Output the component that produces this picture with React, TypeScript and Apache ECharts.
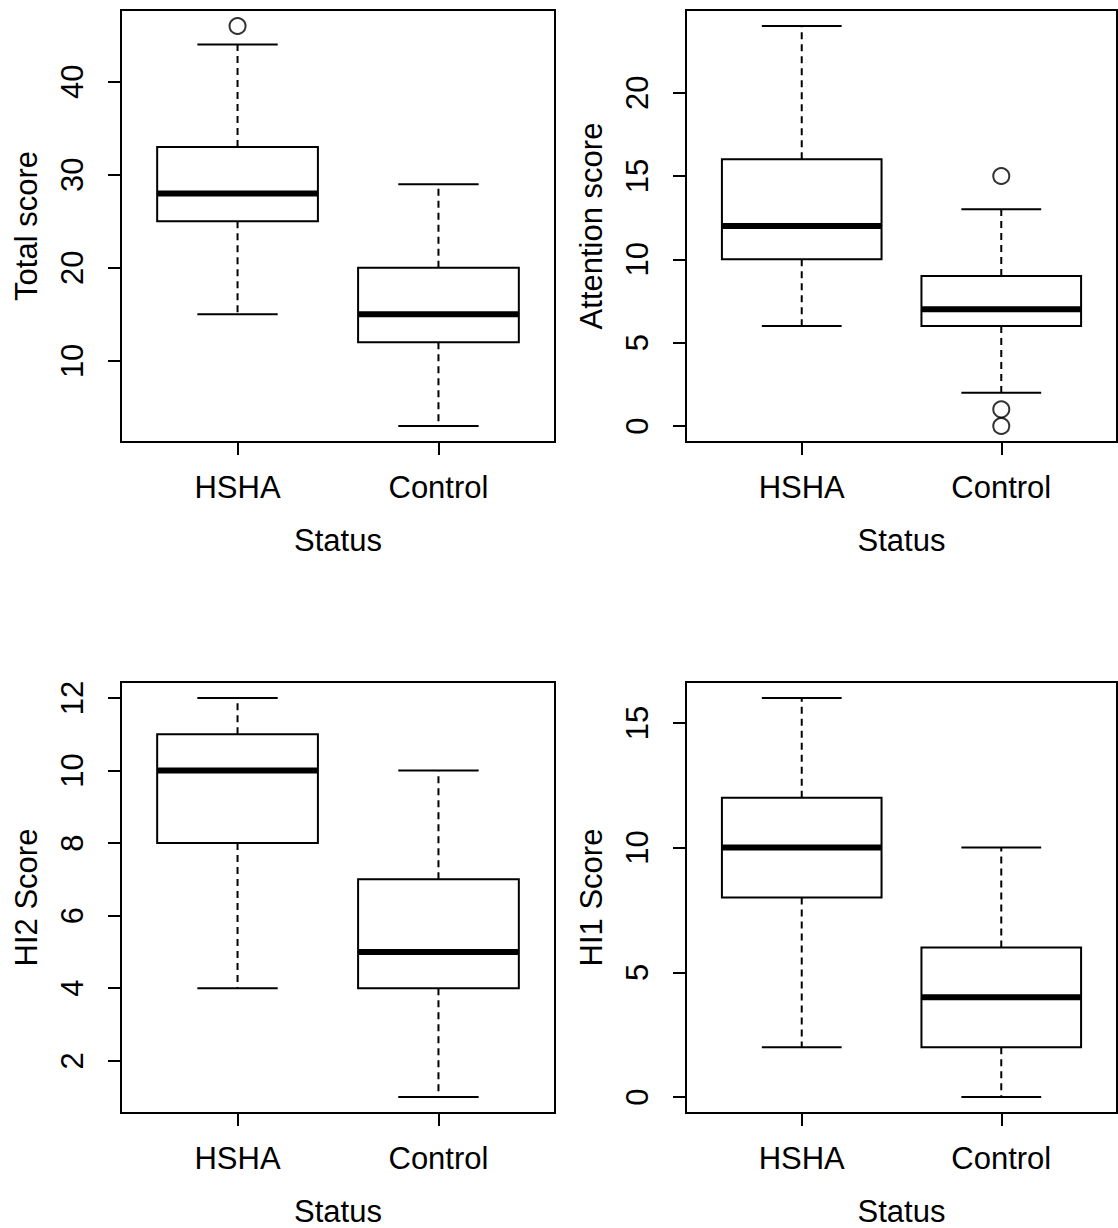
import React, { useEffect, useRef } from "react";
import * as echarts from "echarts";

const categories = ["HSHA", "Control"];
const yTitles = ["Total score", "Attention score", "HI2 Score", "HI1 Score"];
const xTitle = "Status";

// [whiskerLow, Q1, median, Q3, whiskerHigh] per category
const totalBoxes = [
  [15, 25, 28, 33, 44],
  [3, 12, 15, 20, 29],
];
const totalOutliers = [[1, 46]];
const totalTicks = [10, 20, 30, 40];
const totalRange = [1.28, 47.72];

const attentionBoxes = [
  [6, 10, 12, 16, 24],
  [2, 6, 7, 9, 13],
];
const attentionOutliers = [[2, 15], [2, 1], [2, 0]];
const attentionTicks = [0, 5, 10, 15, 20];
const attentionRange = [-0.96, 24.96];

const hi2Boxes = [
  [4, 8, 10, 11, 12],
  [1, 4, 5, 7, 10],
];
const hi2Outliers: number[][] = [];
const hi2Ticks = [2, 4, 6, 8, 10, 12];
const hi2Range = [0.56, 12.44];

const hi1Boxes = [
  [2, 8, 10, 12, 16],
  [0, 2, 4, 6, 10],
];
const hi1Outliers: number[][] = [];
const hi1Ticks = [0, 5, 10, 15];
const hi1Range = [-0.64, 16.64];

const panels = [
  { boxes: totalBoxes, outliers: totalOutliers, ticks: totalTicks, range: totalRange },
  { boxes: attentionBoxes, outliers: attentionOutliers, ticks: attentionTicks, range: attentionRange },
  { boxes: hi2Boxes, outliers: hi2Outliers, ticks: hi2Ticks, range: hi2Range },
  { boxes: hi1Boxes, outliers: hi1Outliers, ticks: hi1Ticks, range: hi1Range },
];

const gridRects = [
  { left: 121, top: 10, width: 434, height: 432 },
  { left: 686, top: 10, width: 431, height: 432 },
  { left: 121, top: 682, width: 434, height: 433 },
  { left: 686, top: 682, width: 431, height: 433 },
];

const FONT = "Liberation Sans, Arial, Helvetica, sans-serif";
const FS = 31;
const INK = "#000";

function renderBox(params: any, api: any) {
  const x = api.value(0);
  const lo = api.value(1);
  const q1 = api.value(2);
  const med = api.value(3);
  const q3 = api.value(4);
  const hi = api.value(5);
  const w = api.size([0.8, 0])[0];
  const c = api.coord([x, 0])[0];
  const yLo = api.coord([x, lo])[1];
  const yQ1 = api.coord([x, q1])[1];
  const yMed = api.coord([x, med])[1];
  const yQ3 = api.coord([x, q3])[1];
  const yHi = api.coord([x, hi])[1];
  const half = w / 2;
  const cap = w / 4;
  const solid = { stroke: INK, lineWidth: 2, fill: null };
  const dashed = { stroke: INK, lineWidth: 2, lineDash: [7, 5], fill: null };
  return {
    type: "group",
    children: [
      { type: "line", shape: { x1: c, y1: yQ3, x2: c, y2: yHi }, style: dashed },
      { type: "line", shape: { x1: c, y1: yQ1, x2: c, y2: yLo }, style: dashed },
      { type: "line", shape: { x1: c - cap, y1: yHi, x2: c + cap, y2: yHi }, style: solid },
      { type: "line", shape: { x1: c - cap, y1: yLo, x2: c + cap, y2: yLo }, style: solid },
      {
        type: "rect",
        shape: { x: c - half, y: yQ3, width: w, height: yQ1 - yQ3 },
        style: { stroke: INK, lineWidth: 2, fill: "#fff" },
      },
      { type: "line", shape: { x1: c - half, y1: yMed, x2: c + half, y2: yMed }, style: { stroke: INK, lineWidth: 6 } },
    ],
  };
}

export default function App() {
  const ref = useRef<HTMLDivElement>(null);
  useEffect(() => {
    if (!ref.current) return;
    const chart = echarts.init(ref.current, null, { renderer: "svg" });
    const grid = gridRects.map((r) => ({
      ...r,
      show: true,
      borderColor: INK,
      borderWidth: 2,
      backgroundColor: "transparent",
      containLabel: false,
    }));
    const xAxis = panels.map((_, i) => ({
      type: "value",
      gridIndex: i,
      min: 0.42,
      max: 2.58,
      splitLine: { show: false },
      axisLine: { show: false, onZero: false },
      axisTick: { show: true, customValues: [1, 2], length: 13, lineStyle: { color: INK, width: 2 } },
      axisLabel: {
        show: true,
        customValues: [1, 2],
        formatter: (v: number) => categories[Math.round(v) - 1] || "",
        color: INK,
        fontFamily: FONT,
        fontSize: FS,
        margin: 30,
      },
      name: xTitle,
      nameLocation: "middle",
      nameGap: 83,
      nameTextStyle: { color: INK, fontFamily: FONT, fontSize: FS },
    }));
    const yAxis = panels.map((p, i) => ({
      type: "value",
      gridIndex: i,
      min: p.range[0],
      max: p.range[1],
      splitLine: { show: false },
      axisLine: { show: false, onZero: false },
      axisTick: { show: true, customValues: p.ticks, length: 13, lineStyle: { color: INK, width: 2 } },
      axisLabel: {
        show: true,
        customValues: p.ticks,
        rotate: 90,
        color: INK,
        fontFamily: FONT,
        fontSize: FS,
        margin: 33,
      },
      name: yTitles[i],
      nameLocation: "middle",
      nameRotate: 90,
      nameGap: 79,
      nameTextStyle: { color: INK, fontFamily: FONT, fontSize: FS },
    }));
    const series: any[] = [];
    panels.forEach((p, i) => {
      series.push({
        type: "custom",
        xAxisIndex: i,
        yAxisIndex: i,
        renderItem: renderBox,
        data: p.boxes.map((b, k) => [k + 1, ...b]),
        encode: { x: 0, y: [1, 2, 3, 4, 5] },
        silent: true,
        z: 2,
      });
      series.push({
        type: "scatter",
        xAxisIndex: i,
        yAxisIndex: i,
        data: p.outliers,
        symbol: "circle",
        symbolSize: 16,
        itemStyle: { color: "rgba(0,0,0,0)", borderColor: INK, borderWidth: 2 },
        silent: true,
        z: 3,
      });
    });
    chart.setOption({
      animation: false,
      backgroundColor: "#fff",
      grid,
      xAxis,
      yAxis,
      series,
    });
    return () => chart.dispose();
  }, []);
  return (
    <div
      ref={ref}
      style={{ position: "absolute", left: 0, top: 0, width: 1118, height: 1228 }}
    />
  );
}
